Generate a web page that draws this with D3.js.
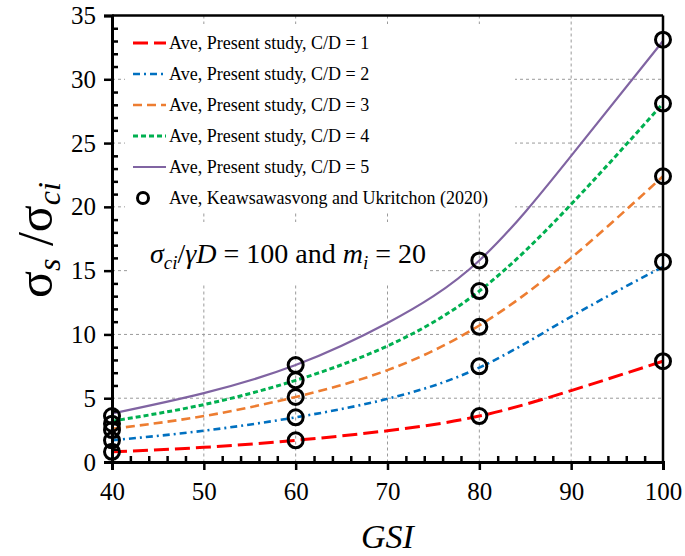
<!DOCTYPE html>
<html>
<head>
<meta charset="utf-8">
<script src="https://cdn.jsdelivr.net/npm/d3@7"></script>
</head>
<body style="margin:0">
<svg id="fig" width="685" height="556"></svg>
<script>
// ---- data ----
const gsi = [40, 50, 60, 70, 80, 90, 100];
const cd1 = [0.8, 1.15, 1.7, 2.45, 3.6, 5.6, 7.9];
const cd2 = [1.7, 2.45, 3.5, 4.95, 7.4, 11.4, 15.3];
const cd3 = [2.6, 3.6, 5.1, 7.2, 10.7, 16.0, 22.4];
const cd4 = [3.2, 4.5, 6.4, 9.1, 13.4, 20.2, 28.1];
const cd5 = [3.8, 5.4, 7.6, 10.9, 15.8, 24.0, 33.0];

const gsiRef = [40, 60, 80, 100];
const ref1 = [0.8, 1.7, 3.6, 7.9];
const ref2 = [1.7, 3.5, 7.5, 15.7];
const ref3 = [2.5, 5.1, 10.6, 22.4];
const ref4 = [3.0, 6.4, 13.4, 28.1];
const ref5 = [3.6, 7.6, 15.8, 33.1];

const seriesNames = [
  "Ave, Present study, C/D = 1",
  "Ave, Present study, C/D = 2",
  "Ave, Present study, C/D = 3",
  "Ave, Present study, C/D = 4",
  "Ave, Present study, C/D = 5"
];
const refName = "Ave, Keawsawasvong and Ukritchon (2020)";
const xTicks = [40, 50, 60, 70, 80, 90, 100];
const yTicks = [0, 5, 10, 15, 20, 25, 30, 35];

// ---- styles ----
const colors = ["#FF0000", "#0070C0", "#ED7D31", "#00B050", "#8064A2"];
const dashes = ["15,6", "7,4,2,4", "9,5", "5,3", null];
const widths = [3, 2.6, 2.6, 3, 2.2];
const SERIF = '"Liberation Serif"';

const svg = d3.select("#fig");
const L = 112, R = 663, T = 15.5, B = 462;
const x = d3.scaleLinear().domain([40, 100]).range([L, R]);
const y = d3.scaleLinear().domain([0, 35]).range([B, T]);

// grid
const grid = svg.append("g");
grid.selectAll("line.v").data(xTicks.filter(d => d > 40 && d < 100)).join("line")
  .attr("x1", d => x(d)).attr("x2", d => x(d)).attr("y1", T).attr("y2", B)
  .attr("stroke", "#9a9a9a").attr("stroke-width", 1).attr("stroke-dasharray", "3,3");
grid.selectAll("line.h").data(yTicks.filter(d => d > 0 && d < 35)).join("line")
  .attr("x1", L).attr("x2", R).attr("y1", d => y(d)).attr("y2", d => y(d))
  .attr("stroke", "#9a9a9a").attr("stroke-width", 1).attr("stroke-dasharray", "3,3");

// white boxes behind legend & annotation
svg.append("rect").attr("x", 125).attr("y", 24).attr("width", 390).attr("height", 188).attr("fill", "#fff");
svg.append("rect").attr("x", 130).attr("y", 222).attr("width", 300).attr("height", 63).attr("fill", "#fff");

// lines
const allSeries = [cd1, cd2, cd3, cd4, cd5];
const line = d3.line().x((d, i) => x(gsi[i])).y(d => y(d)).curve(d3.curveNatural);
allSeries.forEach((s, k) => {
  svg.append("path").datum(s).attr("d", line)
    .attr("fill", "none").attr("stroke", colors[k]).attr("stroke-width", widths[k])
    .attr("stroke-dasharray", dashes[k]);
});

// reference circles
const refs = [ref1, ref2, ref3, ref4, ref5];
refs.forEach(r => {
  svg.append("g").selectAll("circle").data(r).join("circle")
    .attr("cx", (d, i) => x(gsiRef[i])).attr("cy", d => y(d)).attr("r", 7.5)
    .attr("fill", "none").attr("stroke", "#000").attr("stroke-width", 3);
});

// axes frame
svg.append("line").attr("x1", L).attr("x2", R).attr("y1", T).attr("y2", T).attr("stroke", "#000").attr("stroke-width", 2.5);
svg.append("line").attr("x1", R).attr("x2", R).attr("y1", T).attr("y2", B).attr("stroke", "#000").attr("stroke-width", 2.5);

// y axis: major outside, minor inside
const yAxis = svg.append("g").attr("transform", `translate(${L},0)`)
  .call(d3.axisLeft(y).tickValues(yTicks).tickSize(8).tickPadding(8).tickFormat(d3.format("d")));
yAxis.select(".domain").attr("stroke-width", 3);
yAxis.selectAll(".tick line").attr("stroke-width", 2.5);
yAxis.selectAll(".tick text").attr("font-size", 25).attr("fill", "#000");
const yMinor = svg.append("g").attr("transform", `translate(${L},0)`)
  .call(d3.axisRight(y).tickValues(d3.range(0, 36, 1).filter(d => d % 5 !== 0)).tickSize(6).tickFormat(""));
yMinor.select(".domain").remove();
yMinor.selectAll(".tick line").attr("stroke-width", 2.5);

// x axis
const xAxis = svg.append("g").attr("transform", `translate(0,${B})`)
  .call(d3.axisBottom(x).tickValues(xTicks).tickSize(8).tickPadding(12).tickFormat(d3.format("d")));
xAxis.select(".domain").attr("stroke-width", 3);
xAxis.selectAll(".tick line").attr("stroke-width", 2.5);
xAxis.selectAll(".tick text").attr("font-size", 25).attr("fill", "#000");
const xMinor = svg.append("g").attr("transform", `translate(0,${B})`)
  .call(d3.axisTop(x).tickValues(d3.range(40, 101, 2).filter(d => d % 10 !== 0)).tickSize(6).tickFormat(""));
xMinor.select(".domain").remove();
xMinor.selectAll(".tick line").attr("stroke-width", 2.5);

// axis titles
svg.append("text").attr("x", x(70)).attr("y", 548).attr("text-anchor", "middle")
  .attr("font-size", 34).attr("font-style", "italic").text("GSI");

const yl = svg.append("text").attr("transform", "translate(52,240) rotate(-90)")
  .attr("text-anchor", "middle").attr("font-size", 50);
yl.append("tspan").text("σ");
yl.append("tspan").attr("font-size", 32).attr("font-style", "italic").attr("dy", 8).text("s");
yl.append("tspan").attr("dy", -8).text(" /");
yl.append("tspan").text("σ");
yl.append("tspan").attr("font-size", 32).attr("font-style", "italic").attr("dy", 8).text("ci");

// annotation
const ann = svg.append("text").attr("x", 150).attr("y", 263).attr("font-size", 28);
ann.append("tspan").attr("font-style", "italic").text("σ");
ann.append("tspan").attr("font-style", "italic").attr("font-size", 19).attr("dy", 6).text("ci");
ann.append("tspan").attr("dy", -6).text("/");
ann.append("tspan").attr("font-style", "italic").text("γD");
ann.append("tspan").text(" = 100 and ");
ann.append("tspan").attr("font-style", "italic").text("m");
ann.append("tspan").attr("font-style", "italic").attr("font-size", 19).attr("dy", 6).text("i");
ann.append("tspan").attr("dy", -6).text(" = 20");

// legend
const legY = [43, 74, 105, 136, 167];
seriesNames.forEach((n, k) => {
  svg.append("line").attr("x1", 133).attr("x2", 166).attr("y1", legY[k]).attr("y2", legY[k])
    .attr("stroke", colors[k]).attr("stroke-width", widths[k]).attr("stroke-dasharray", dashes[k]);
  svg.append("text").attr("x", 169).attr("y", legY[k] + 6).attr("font-size", 18).text(n);
});
svg.append("circle").attr("cx", 143).attr("cy", 198).attr("r", 5.5)
  .attr("fill", "none").attr("stroke", "#000").attr("stroke-width", 3);
svg.append("text").attr("x", 169).attr("y", 204).attr("font-size", 18).text(refName);

// serif everywhere, with priority
svg.selectAll("text, tspan").style("font-family", SERIF, "important");
</script>
</body>
</html>
